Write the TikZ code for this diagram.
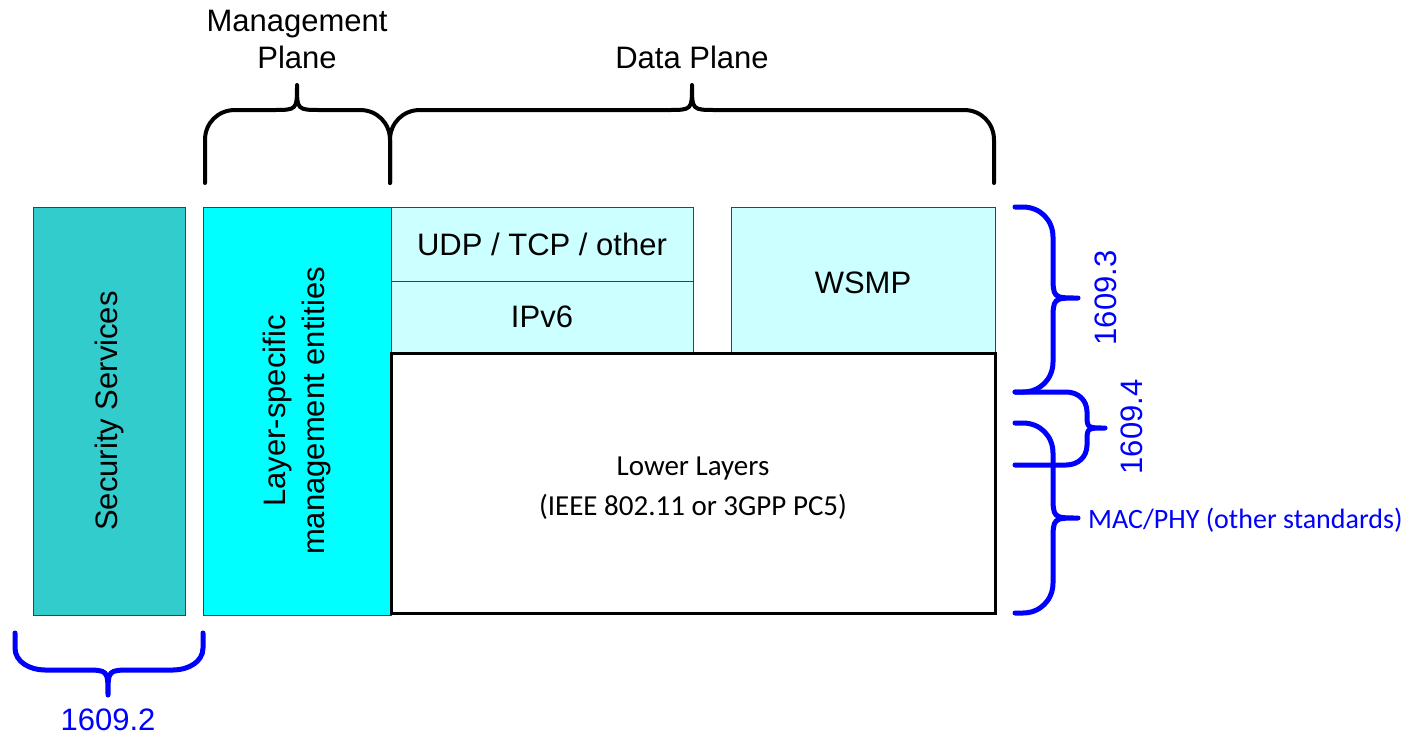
\documentclass[tikz,border=0pt]{standalone}
\usepackage{fontspec}
\setmainfont{Liberation Sans}
\newfontfamily\carlito{Carlito}
\definecolor{secfill}{HTML}{33CCCC}
\definecolor{lsmfill}{HTML}{00FFFF}
\definecolor{protofill}{HTML}{CCFFFF}
\definecolor{bracecol}{HTML}{0000FF}
\definecolor{thinedge}{HTML}{404040}
\tikzset{
  box/.style={draw=thinedge, line width=1pt, inner sep=0pt, align=center, font=\fontsize{31}{39}\selectfont},
  lowerbox/.style={draw=black, line width=3pt, fill=white, inner sep=0pt, align=center, font=\carlito\fontsize{29}{40}\selectfont},
  bkbrace/.style={draw=black, line width=4pt, line cap=round, line join=round},
  blbrace/.style={draw=bracecol, line width=5pt, line cap=round, line join=round},
  arialtxt/.style={font=\fontsize{31}{37}\selectfont, align=center, inner sep=0pt},
  bluetxt/.style={text=bracecol, font=\fontsize{31}{37}\selectfont, inner sep=0pt},
}
\begin{document}
\begin{tikzpicture}[x=1pt,y=-1pt]
\useasboundingbox (0,0) rectangle (1410,737);
% boxes
\node (sec) [box, fill=secfill, rotate=90, minimum width=408pt, minimum height=152pt] at (109,411) {Security Services};
\node (lsm) [box, fill=lsmfill, rotate=90, minimum width=408pt, minimum height=188pt] at (297,411) {Layer-specific\\management entities};
\node (udp) [box, fill=protofill, minimum width=302pt, minimum height=74pt] at (542,244) {UDP / TCP / other};
\node (ipv) [box, fill=protofill, minimum width=302pt, minimum height=72pt] at (542,317) {IPv6};
\node (wsmp) [box, fill=protofill, minimum width=264pt, minimum height=146pt] at (863,280) {};
\node (wsmpt) [arialtxt] at (863,283) {WSMP};
\node (low) [lowerbox, minimum width=604pt, minimum height=260pt] at (693,483) {};
\node (lowt) [font=\carlito\fontsize{29}{40}\selectfont, align=center, inner sep=0pt] at (693,488) {Lower Layers\\(IEEE 802.11 or 3GPP PC5)};
% top braces
\draw[bkbrace] (205,183) -- (205,140) .. controls (205,123) and (218,110) .. (235,110) -- (273,110)
  .. controls (297,110) .. (297,85) .. controls (297,110) .. (321,110) -- (360,110)
  .. controls (377,110) and (390,123) .. (390,140) -- (390,183);
\draw[bkbrace] (390,183) -- (390,140) .. controls (390,123) and (403,110) .. (420,110) -- (668,110)
  .. controls (692,110) .. (692,85) .. controls (692,110) .. (716,110) -- (964,110)
  .. controls (981,110) and (994,123) .. (994,140) -- (994,183);
\node (mp) [arialtxt] at (297,39) {Management\\Plane};
\node (dp) [arialtxt] at (692,57) {Data Plane};
% bottom brace
\draw[blbrace] (15,633) -- (15,648) .. controls (15,662) and (30,670) .. (45,670) -- (84,670)
  .. controls (108,670) .. (108,695) .. controls (108,670) .. (132,670) -- (173,670)
  .. controls (188,670) and (203,662) .. (203,648) -- (203,633);
\node (l2) [bluetxt] at (108,720) {1609.2};
% right braces
\draw[blbrace] (1015,207) -- (1023,207) .. controls (1040,207) and (1053,220) .. (1053,237) -- (1053,274)
  .. controls (1053,298) .. (1078,298) .. controls (1053,298) .. (1053,322) -- (1053,362)
  .. controls (1053,379) and (1040,392) .. (1023,392) -- (1015,392);
\draw[blbrace] (1015,392) -- (1066,392) .. controls (1078,392) and (1087,400) .. (1087,412) -- (1087,414)
  .. controls (1087,428) .. (1105,428) .. controls (1087,428) .. (1087,442) -- (1087,445)
  .. controls (1087,457) and (1078,465) .. (1066,465) -- (1015,465);
\draw[blbrace] (1015,423) -- (1023,423) .. controls (1040,423) and (1053,436) .. (1053,453) -- (1053,494)
  .. controls (1053,518) .. (1078,518) .. controls (1053,518) .. (1053,542) -- (1053,583)
  .. controls (1053,600) and (1040,613) .. (1023,613) -- (1015,613);
\node (l3) [bluetxt, rotate=90] at (1106,298) {1609.3};
\node (l4) [bluetxt, rotate=90] at (1132,427) {1609.4};
\node (lm) [text=bracecol, font=\carlito\fontsize{28}{34}\selectfont, inner sep=0pt, anchor=west] at (1088,520) {MAC/PHY (other standards)};
\end{tikzpicture}
\end{document}
